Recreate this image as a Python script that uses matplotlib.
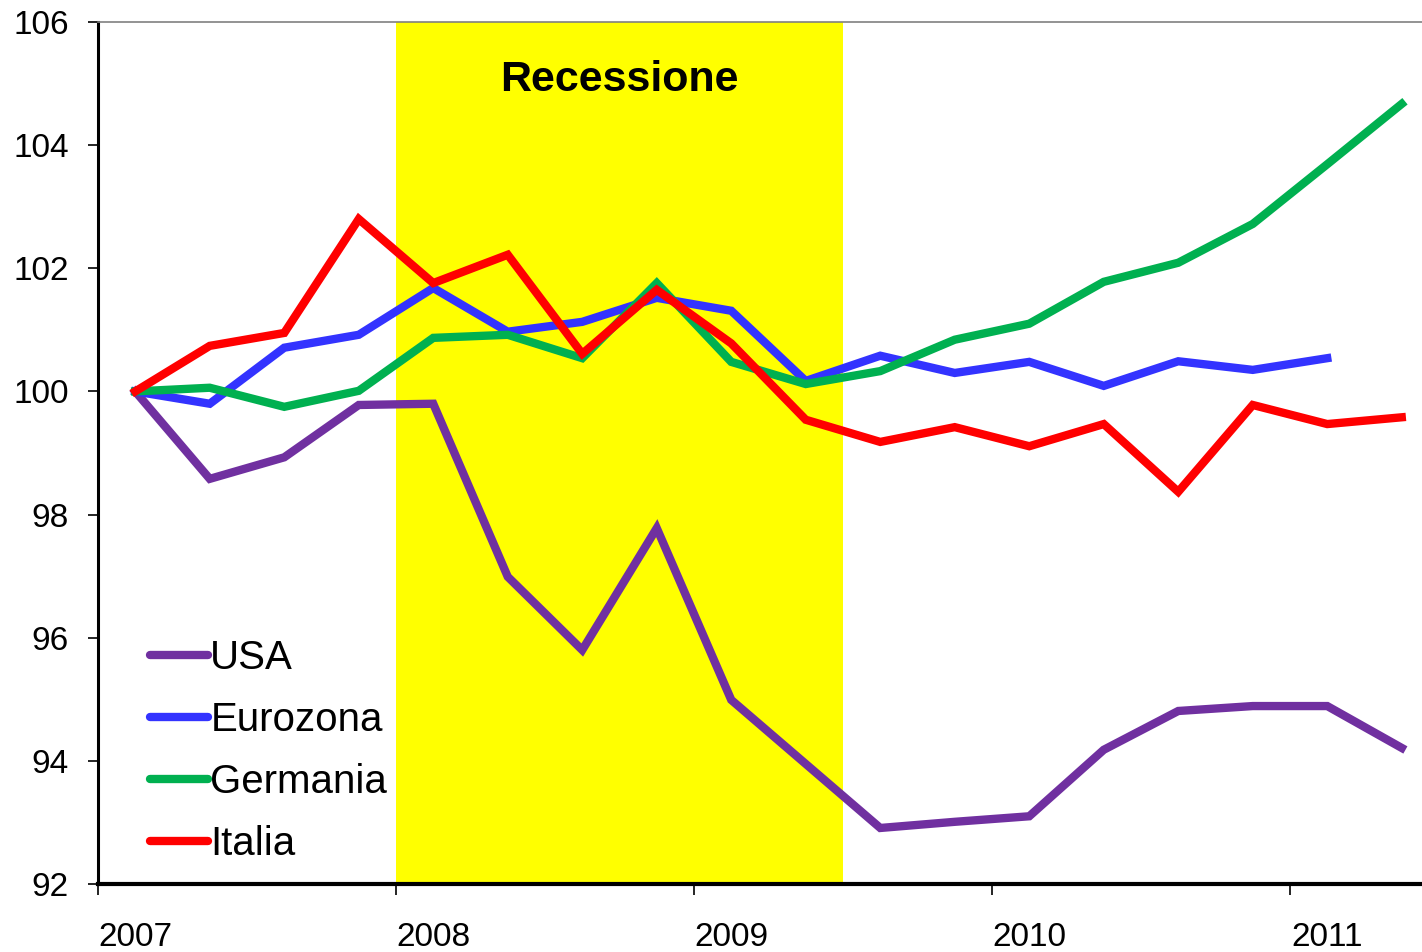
import numpy as np
import matplotlib
matplotlib.use("Agg")
import matplotlib.pyplot as plt

plt.rcParams['font.family'] = ['Liberation Sans', 'DejaVu Sans']

# quarterly index, 2007 Q1 = 100
years = [2007, 2008, 2009, 2010, 2011]
usa = [100.0, 98.58, 98.93, 99.78, 99.80, 96.99, 95.80, 97.78, 94.99,
       93.95, 92.91, 93.01, 93.10, 94.18, 94.81, 94.89, 94.89, 94.21]
eurozona = [100.0, 99.80, 100.71, 100.92, 101.68, 100.97, 101.13, 101.52, 101.31,
            100.17, 100.58, 100.30, 100.48, 100.09, 100.49, 100.35, 100.54]
germania = [100.0, 100.06, 99.75, 100.01, 100.87, 100.92, 100.54, 101.76, 100.48,
            100.12, 100.33, 100.84, 101.10, 101.78, 102.09, 102.72, 103.69, 104.67]
italia = [100.0, 100.74, 100.95, 102.80, 101.76, 102.22, 100.61, 101.65, 100.78,
          99.54, 99.18, 99.42, 99.11, 99.47, 98.37, 99.78, 99.47, 99.58]
recession = (2008.0, 2009.5)

series = [("USA", usa, "#7030A0"),
          ("Eurozona", eurozona, "#3333FF"),
          ("Germania", germania, "#00B050"),
          ("Italia", italia, "#FF0000")]

fig = plt.figure(figsize=(14.22, 9.52), dpi=100)
ax = fig.add_axes([98/1422, 1 - 884/952, 1 - 98/1422, (884 - 22)/952])

ax.axvspan(recession[0], recession[1], color="#FFFF00", zorder=0, lw=0)
ax.text(np.mean(recession), 105.05, "Recessione", ha="center", va="center",
        fontsize=31, fontweight="bold")

for name, vals, col in series:
    x = 2007 + (np.arange(len(vals)) + 0.5) / 4
    ax.plot(x, vals, color=col, lw=6, label=name, solid_joinstyle="miter", zorder=3)

ax.set_ylim(92, 106)
ax.set_yticks(np.arange(92, 107, 2))
ax.set_xlim(2007, 2007 + 1324/298)
ax.set_xticks(years)
ax.set_xticklabels([])
ax.set_xticks([y + 0.125 for y in years], minor=True)
ax.set_xticklabels([str(y) for y in years], minor=True)
ax.tick_params(axis="x", which="major", length=8, width=1.2, direction="out")
ax.tick_params(axis="x", which="minor", length=0, pad=27, labelsize=24)
ax.tick_params(axis="y", length=7, width=1.2, direction="out", pad=14, labelsize=24)

ax.spines["left"].set_linewidth(2.2)
ax.spines["bottom"].set_linewidth(3)
ax.spines["top"].set_color("#808080")
ax.spines["top"].set_linewidth(1.2)
ax.spines["right"].set_visible(False)

leg = ax.legend(loc="upper left", bbox_to_anchor=(0.024, 0.308), frameon=False,
                fontsize=29, handlelength=1.45, handletextpad=0.05,
                labelspacing=0.6, borderpad=0)
for h in leg.get_lines():
    h.set_linewidth(6)
    h.set_solid_capstyle("round")

fig.savefig("out.png", dpi=100)
